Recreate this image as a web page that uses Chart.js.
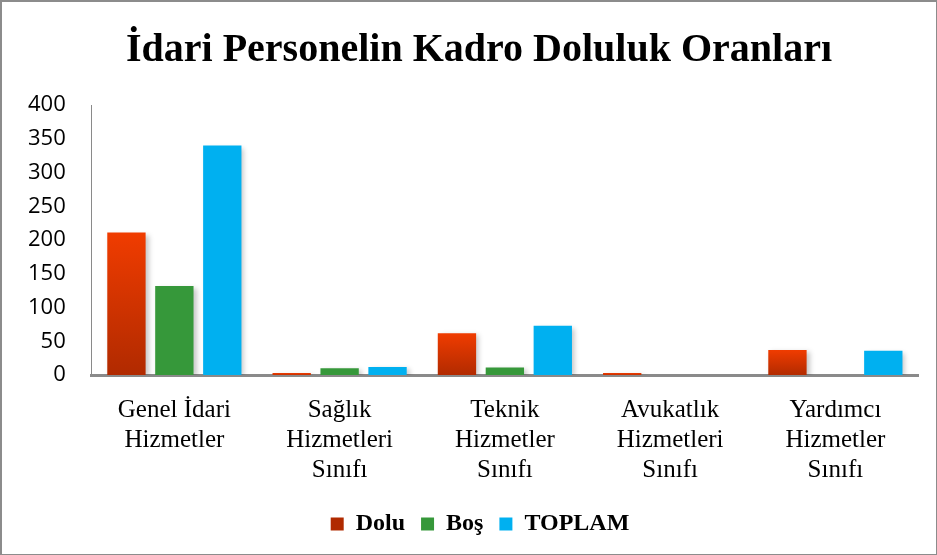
<!DOCTYPE html>
<html>
<head>
<meta charset="utf-8">
<script src="https://cdn.jsdelivr.net/npm/chart.js@4"></script>
<style>
  html, body { margin: 0; padding: 0; background: #fff; }
  #wrap { width: 937px; height: 555px; box-sizing: border-box; border: 2px solid #8c8c8c; border-right-width: 1px; border-bottom-width: 1px; }
  canvas { display: block; }
</style>
</head>
<body>
<div id="wrap"><canvas id="chartKadro" width="934" height="552"></canvas></div>
<script>
const kategoriler = [
    ['Genel İdari', 'Hizmetler'],
    ['Sağlık', 'Hizmetleri', 'Sınıfı'],
    ['Teknik', 'Hizmetler', 'Sınıfı'],
    ['Avukatlık', 'Hizmetleri', 'Sınıfı'],
    ['Yardımcı', 'Hizmetler', 'Sınıfı']
];
const dolu = [211, 3, 62, 3, 37];
const bos = [132, 10, 11, 0, 0];
const toplam = [340, 12, 73, 0, 36];
const yTicks = [0, 50, 100, 150, 200, 250, 300, 350, 400];

// Dolu serisi: her sütunda yukarıdan aşağıya koyulaşan gradyan
function doluRenk(context) {
    const chart = context.chart;
    const area = chart.chartArea;
    if (context.type !== 'data' || !area || !chart.scales.y) {
        const g = chart.ctx.createLinearGradient(0, 512, 0, 528);
        g.addColorStop(0, '#F03C00');
        g.addColorStop(1, '#B02A00');
        return g;
    }
    const yTop = chart.scales.y.getPixelForValue(context.raw);
    const yBot = chart.scales.y.getPixelForValue(0);
    const g = chart.ctx.createLinearGradient(0, yTop, 0, yBot + 1);
    g.addColorStop(0, '#F03C00');
    g.addColorStop(1, '#B02A00');
    return g;
}

const golge = {
    id: 'golge',
    beforeDatasetsDraw(chart) {
        const ctx = chart.ctx;
        ctx.save();
        ctx.shadowColor = 'rgba(0,0,0,0.22)';
        ctx.shadowBlur = 5;
        ctx.shadowOffsetX = 3;
        ctx.shadowOffsetY = 2;
    },
    afterDatasetsDraw(chart) {
        chart.ctx.restore();
    }
};

// başlık ve lejant referansta biraz sağda duruyor
const kaydir = {
    id: 'kaydir',
    afterLayout(chart) {
        if (chart.titleBlock) {
            chart.titleBlock.left += 19;
            chart.titleBlock.right += 19;
        }
        if (chart.legend) {
            chart.legend.left += 20;
            chart.legend.right += 20;
        }
    }
};

document.addEventListener('DOMContentLoaded', function () {
    const ctx = document.getElementById('chartKadro');
    new Chart(ctx, {
        type: 'bar',
        data: {
            labels: kategoriler,
            datasets: [
                { label: 'Dolu', data: dolu, backgroundColor: doluRenk },
                { label: 'Boş', data: bos, backgroundColor: '#36983A' },
                { label: 'TOPLAM', data: toplam, backgroundColor: '#00B0F0' }
            ]
        },
        plugins: [golge, kaydir],
        options: {
            responsive: false,
            animation: false,
            layout: { padding: { left: 0, right: 18, top: 0, bottom: 8 } },
            datasets: {
                bar: { barPercentage: 0.8, categoryPercentage: 0.87 }
            },
            plugins: {
                title: {
                    display: true,
                    text: 'İdari Personelin Kadro Doluluk Oranları',
                    color: '#000',
                    font: { family: '"Liberation Serif", serif', size: 40, weight: 'bold' },
                    padding: { top: 25, bottom: 30 }
                },
                legend: {
                    position: 'bottom',
                    labels: {
                        color: '#000',
                        font: { family: '"Liberation Serif", serif', size: 24, weight: 'bold' },
                        boxWidth: 13,
                        boxHeight: 13,
                        padding: 16
                    }
                },
                tooltip: { enabled: false }
            },
            scales: {
                x: {
                    grid: { display: false, drawTicks: false },
                    border: { display: true, color: '#8a8a8a', width: 3 },
                    ticks: {
                        color: '#000',
                        padding: 20,
                        maxRotation: 0,
                        autoSkip: false,
                        font: { family: '"Liberation Serif", serif', size: 25, lineHeight: 1.2 }
                    },
                    afterFit(axis) {
                        axis.height -= 9;
                    }
                },
                y: {
                    min: 0,
                    max: 400,
                    afterBuildTicks(axis) {
                        axis.ticks = yTicks.map(v => ({ value: v }));
                    },
                    grid: { display: false, drawTicks: false },
                    border: { display: true, color: '#8a8a8a', width: 1 },
                    ticks: {
                        color: '#000',
                        padding: 26,
                        font: { family: '"Open Sans", sans-serif', size: 22 }
                    }
                }
            }
        }
    });
});
</script>
</body>
</html>
